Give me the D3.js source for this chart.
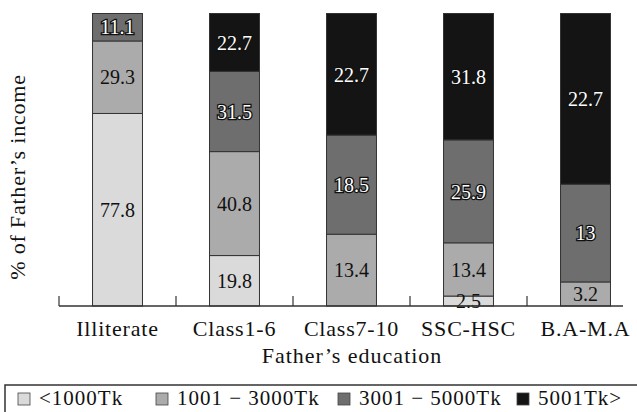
<!DOCTYPE html>
<html><head><meta charset="utf-8">
<script src="https://cdn.jsdelivr.net/npm/d3@7"></script>
<style>
html,body{margin:0;padding:0;background:#fff;}
svg text{font-family:'Liberation Serif','Times New Roman','DejaVu Serif',serif;}
</style></head>
<body><svg id="c" width="637" height="412"></svg>
<script>
const categories = ["Illiterate","Class1-6","Class7-10","SSC-HSC","B.A-M.A"];
const seriesNames = ["<1000Tk","1001 − 3000Tk","3001 − 5000Tk","5001Tk>"];
const lt1000   = [77.8, 19.8, 0, 2.5, 0];
const r1001    = [29.3, 40.8, 13.4, 13.4, 3.2];
const r3001    = [11.1, 31.5, 18.5, 25.9, 13];
const gt5001   = [0, 22.7, 22.7, 31.8, 22.7];
const colors = ["#dadada","#ababab","#6e6e6e","#141414"];
const darkLabel = [false,false,true,true];

const keys = ["s0","s1","s2","s3"];
const rows = categories.map((c,i)=>({cat:c, s0:lt1000[i], s1:r1001[i], s2:r3001[i], s3:gt5001[i]}));
const stack = d3.stack().keys(keys).offset(d3.stackOffsetExpand)(rows);

const svg = d3.select("#c");
const x = d3.scaleBand().domain(categories).range([59,644]).paddingInner(0.573).paddingOuter(0.2865);
const y = d3.scaleLinear().domain([0,1]).range([306,13.5]);

const g = svg.append("g");
stack.forEach((layer,li)=>{
  g.selectAll(null).data(layer.filter(d=>d[1]-d[0]>0)).join("rect")
    .attr("x",d=>x(d.data.cat))
    .attr("width",x.bandwidth())
    .attr("y",d=>y(d[1]))
    .attr("height",d=>y(d[0])-y(d[1]))
    .attr("fill",colors[li])
    .attr("stroke","#333").attr("stroke-width",1);
});
stack.forEach((layer,li)=>{
  g.selectAll(null).data(layer.filter(d=>d[1]-d[0]>0)).join("text")
    .attr("x",d=>x(d.data.cat)+x.bandwidth()/2)
    .attr("y",d=>(y(d[0])+y(d[1]))/2)
    .attr("dy","0.36em")
    .attr("text-anchor","middle")
    .attr("font-size",20)
    .attr("letter-spacing",0)
    .attr("fill",darkLabel[li]?"#fff":"#111")
    .attr("stroke",darkLabel[li]?"#111":"none")
    .attr("stroke-width",darkLabel[li]?2.6:0)
    .attr("paint-order","stroke")
    .text(d=>d.data[keys[li]]);
});

// x axis
const step = x.step();
const ax = svg.append("g");
ax.append("line").attr("x1",59).attr("x2",623).attr("y1",306).attr("y2",306)
  .attr("stroke","#333").attr("stroke-width",1.5);
categories.forEach(c=>{
  const bx = x(c) - step*x.paddingInner()/2;
  ax.append("line").attr("x1",bx).attr("x2",bx).attr("y1",306).attr("y2",296)
    .attr("stroke","#333").attr("stroke-width",1.2);
});
ax.selectAll(null).data(categories).join("text")
  .attr("x",d=>x(d)+x.bandwidth()/2).attr("y",336)
  .attr("text-anchor","middle").attr("font-size",22).attr("fill","#111")
  .attr("letter-spacing",0.8)
  .text(d=>d);

svg.append("text").attr("x",352).attr("y",363).attr("text-anchor","middle")
  .attr("font-size",22).attr("fill","#111").attr("letter-spacing",1.0).text("Father’s education");
svg.append("text").attr("transform","translate(25,177) rotate(-90)")
  .attr("text-anchor","middle").attr("font-size",22).attr("fill","#111")
  .attr("letter-spacing",0.8).text("% of Father’s income");

// legend
svg.append("rect").attr("x",5).attr("y",385).attr("width",640).attr("height",40)
  .attr("fill","none").attr("stroke","#333").attr("stroke-width",1.5);
const legX = [18,156,338,517];
seriesNames.forEach((n,i)=>{
  svg.append("rect").attr("x",legX[i]).attr("y",393).attr("width",12).attr("height",12)
    .attr("fill",colors[i]).attr("stroke","#444").attr("stroke-width",0.8);
  svg.append("text").attr("x",legX[i]+21).attr("y",405).attr("font-size",21)
    .attr("fill","#111").attr("letter-spacing",1.0).text(n);
});
</script></body></html>
